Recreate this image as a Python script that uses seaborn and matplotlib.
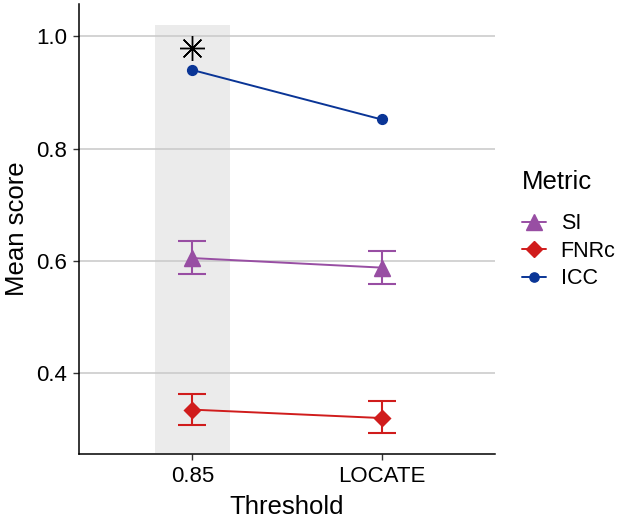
import matplotlib
matplotlib.use("Agg")
import matplotlib.pyplot as plt
from matplotlib.lines import Line2D
import seaborn as sns
import pandas as pd

# ---- data ----
thresholds = ["0.85", "LOCATE"]
metrics = ["SI", "FNRc", "ICC"]
si_mean = [0.605, 0.588]
si_lower = [0.577, 0.559]
si_upper = [0.635, 0.617]
fnrc_mean = [0.335, 0.320]
fnrc_lower = [0.307, 0.293]
fnrc_upper = [0.363, 0.350]
icc_mean = [0.940, 0.852]
star_threshold = "0.85"
star_value = 0.98
highlight_threshold = "0.85"

colors = {"SI": "#984ea3", "FNRc": "#d01c1c", "ICC": "#0a3596"}
markers = {"SI": "^", "FNRc": "D", "ICC": "o"}
msizes = {"SI": 12, "FNRc": 8.5, "ICC": 7}

rows = []
for t, m in zip(thresholds, si_mean):
    rows.append({"Threshold": t, "Metric": "SI", "Score": m})
for t, m in zip(thresholds, fnrc_mean):
    rows.append({"Threshold": t, "Metric": "FNRc", "Score": m})
for t, m in zip(thresholds, icc_mean):
    rows.append({"Threshold": t, "Metric": "ICC", "Score": m})
df = pd.DataFrame(rows)

sns.set_theme(style="white")
plt.rcParams["font.family"] = ["Liberation Sans", "DejaVu Sans"]
plt.rcParams["text.color"] = "black"

fig = plt.figure(figsize=(6.24, 5.18), dpi=100)
ax = fig.add_axes([0.1266, 0.1236, 0.6666, 0.868])

# highlight band around the 0.85 threshold
hx = thresholds.index(highlight_threshold)
ax.fill_between([hx - 0.2, hx + 0.2], 0.258, 1.02, color="#ebebeb", zorder=0, linewidth=0)

# error bars
xpos = list(range(len(thresholds)))
for name, mean, lo, hi in [("SI", si_mean, si_lower, si_upper),
                           ("FNRc", fnrc_mean, fnrc_lower, fnrc_upper)]:
    yerr = [[m - l for m, l in zip(mean, lo)], [h - m for m, h in zip(mean, hi)]]
    ax.errorbar(xpos, mean, yerr=yerr, fmt="none", ecolor=colors[name],
                elinewidth=1.5, capsize=10, capthick=1.5, zorder=3)

for name in metrics:
    sns.pointplot(data=df[df["Metric"] == name], x="Threshold", y="Score",
                  order=thresholds, color=colors[name], markers=markers[name],
                  markersize=msizes[name], linewidth=1.4, errorbar=None, ax=ax,
                  zorder=4)

# significance asterisk
ax.plot([thresholds.index(star_threshold)], [star_value], marker=(8, 2, 0),
        markersize=18, color="black", markeredgewidth=1.0, linestyle="none", zorder=5)

ax.set_xlim(-0.6, 1.6)
ax.set_ylim(0.256, 1.057)
ax.set_yticks([0.4, 0.6, 0.8, 1.0])
ax.set_yticklabels(["0.4", "0.6", "0.8", "1.0"])
ax.yaxis.grid(True, color="#c8c8c8", linewidth=1.1)
ax.set_axisbelow(True)
for s in ["top", "right"]:
    ax.spines[s].set_visible(False)
for s in ["left", "bottom"]:
    ax.spines[s].set_color("black")
    ax.spines[s].set_linewidth(1.1)
ax.tick_params(axis="both", which="major", length=4.3, width=1.0, color="#333333",
               labelsize=16, labelcolor="black", pad=4.3, left=True, bottom=True)
ax.set_xlabel("Threshold", fontsize=18.5, color="black", labelpad=6)
ax.set_ylabel("Mean score", fontsize=18.5, color="black", labelpad=5)

# legend
fig.text(522 / 624, 1 - 182 / 518, "Metric", fontsize=18.5, color="black",
         ha="left", va="center")
handles = [Line2D([0], [0], color=colors[m], marker=markers[m],
                  markersize=msizes[m] * 0.95, linewidth=1.4) for m in metrics]
leg = fig.legend(handles, metrics, loc="upper left",
                 bbox_to_anchor=(0.8365, 0.588), frameon=False, fontsize=15.5,
                 labelcolor="black", handlelength=1.1, labelspacing=0.3,
                 handletextpad=0.7, borderpad=0, borderaxespad=0)

fig.savefig("out.png", dpi=100)
